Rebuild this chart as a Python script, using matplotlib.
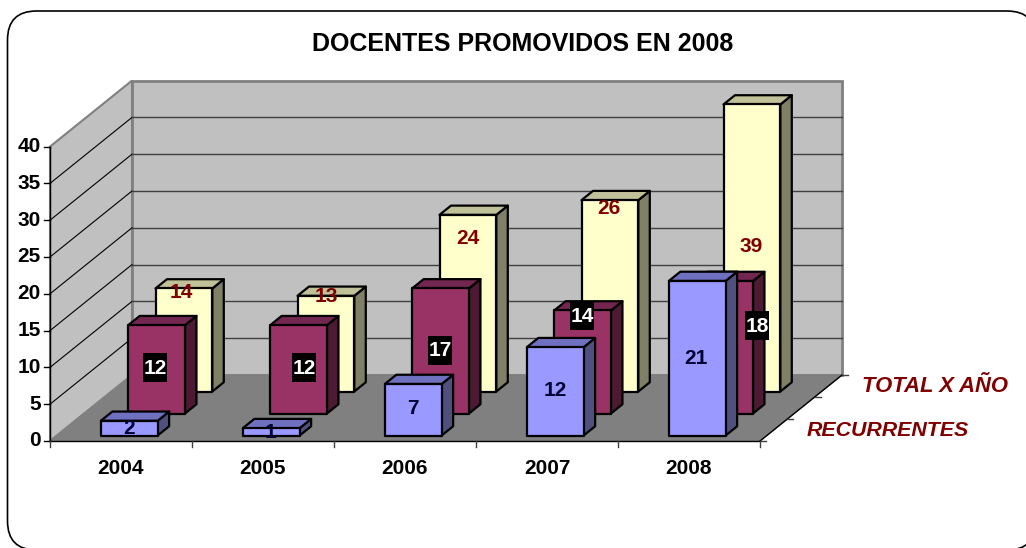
import matplotlib
matplotlib.use('Agg')
import matplotlib.pyplot as plt
from matplotlib.patches import Polygon, FancyBboxPatch, Rectangle

plt.rcParams['font.family'] = ['Liberation Sans', 'DejaVu Sans']

# data
years = ['2004', '2005', '2006', '2007', '2008']
recien = [2, 1, 7, 12, 21]
recurrentes = [12, 12, 17, 14, 18]
total = [14, 13, 24, 26, 39]
y_ticks = [0, 5, 10, 15, 20, 25, 30, 35, 40]
depth_labels = ['RECURRENTES', 'TOTAL X AÑO']

# pixel layout of the 3d box
X0, Y0 = 50, 441
CAT_W = 142
UNIT = 7.36
DX, DY = 27.33, -22.0
ROWS = 3
VMAX = 40

# where the value labels were put by hand in the original
recien_pos = [(129, 429), (271, 432), (413, 409), (555, 391), (696, 358)]
recurr_pos = [(155, 368), (304, 368), (440, 351), (582, 316), (757, 326)]
total_pos = [(181, 293), (326, 296), (468, 238), (609, 209), (751, 246)]
FS = 15


def proj(c, d, v):
    return (X0 + CAT_W * c + DX * d, Y0 - UNIT * v + DY * d)


fig = plt.figure(figsize=(10.26, 5.48), dpi=100)
ax = fig.add_axes([0, 0, 1, 1])
ax.set_xlim(0, 1026)
ax.set_ylim(548, 0)
ax.axis('off')

ax.add_patch(FancyBboxPatch((7.5, 11), 1028.5, 539, boxstyle='round,pad=0,rounding_size=29',
                            fc='white', ec='black', lw=1.2, zorder=0))

ncat = len(years)
# walls and floor
ax.add_patch(Polygon([proj(0, 0, 0), proj(0, 0, VMAX), proj(0, ROWS, VMAX), proj(0, ROWS, 0)],
                     fc='#C0C0C0', ec='#808080', lw=1.5, zorder=1))
ax.add_patch(Polygon([proj(0, ROWS, 0), proj(0, ROWS, VMAX), proj(ncat, ROWS, VMAX), proj(ncat, ROWS, 0)],
                     fc='#C0C0C0', ec='#808080', lw=2, zorder=1))
ax.add_patch(Polygon([proj(0, 0, 0), proj(ncat, 0, 0), proj(ncat, ROWS, 0), proj(0, ROWS, 0)],
                     fc='#808080', ec='#808080', lw=1, zorder=2))
for t in y_ticks[1:-1]:
    a, b, c = proj(0, 0, t), proj(0, ROWS, t), proj(ncat, ROWS, t)
    ax.plot([a[0], b[0]], [a[1], b[1]], color='black', lw=0.8, zorder=2)
    ax.plot([b[0], c[0]], [b[1], c[1]], color='#404040', lw=1.0, zorder=2)

# axes lines and ticks
a, b = proj(0, 0, 0), proj(0, 0, VMAX)
ax.plot([a[0], b[0]], [a[1], b[1]], color='black', lw=1, zorder=3)
a, b = proj(0, 0, 0), proj(ncat, 0, 0)
ax.plot([a[0], b[0]], [a[1], b[1]], color='black', lw=1, zorder=3)
a, b = proj(ncat, 0, 0), proj(ncat, ROWS, 0)
ax.plot([a[0], b[0]], [a[1], b[1]], color='black', lw=1, zorder=3)
for t in y_ticks:
    px, py = proj(0, 0, t)
    ax.plot([px - 6, px], [py, py], color='black', lw=1, zorder=3)
    ax.text(px - 9, py, str(t), ha='right', va='center', fontsize=FS, fontweight='bold')
for i in range(ncat + 1):
    px, py = proj(i, 0, 0)
    ax.plot([px, px], [py, py + 6], color='#404040', lw=1, zorder=3)
for i in range(ROWS + 1):
    px, py = proj(ncat, i, 0)
    ax.plot([px, px + 6], [py, py], color='#404040', lw=1, zorder=3)
for i, y in enumerate(years):
    px, py = proj(i + 0.5, 0, 0)
    ax.text(px, py + 27, y, ha='center', va='center', fontsize=FS, fontweight='bold')


def draw_row(vals, row, front, side, top):
    d0 = row + 0.25
    d1 = d0 + 0.42
    z = 10 + (ROWS - row) * 10
    for i, v in enumerate(vals):
        c0 = i + 0.31
        c1 = c0 + 0.40
        lw = 1.6
        ax.add_patch(Polygon([proj(c0, d0, 0), proj(c1, d0, 0), proj(c1, d0, v), proj(c0, d0, v)],
                             fc=front, ec='black', lw=lw, joinstyle='round', zorder=z + 1))
        ax.add_patch(Polygon([proj(c1, d0, 0), proj(c1, d1, 0), proj(c1, d1, v), proj(c1, d0, v)],
                             fc=side, ec='black', lw=lw, joinstyle='round', zorder=z))
        ax.add_patch(Polygon([proj(c0, d0, v), proj(c1, d0, v), proj(c1, d1, v), proj(c0, d1, v)],
                             fc=top, ec='black', lw=lw, joinstyle='round', zorder=z))


draw_row(total, 2, '#FFFFCC', '#808066', '#C0C099')
draw_row(recurrentes, 1, '#993366', '#4D1A33', '#732650')
draw_row(recien, 0, '#9999FF', '#50507F', '#7070C0')

# value labels
for v, (x, y) in zip(recien, recien_pos):
    ax.text(x, y, str(v), ha='center', va='center', fontsize=FS, fontweight='bold',
            color='#000033', zorder=60)
for v, (x, y) in zip(recurrentes, recurr_pos):
    ax.add_patch(Rectangle((x - 12, y - 15), 24, 29, fc='black', ec='none', zorder=59))
    ax.text(x, y, str(v), ha='center', va='center', fontsize=FS, fontweight='bold',
            color='white', zorder=60)
for v, (x, y) in zip(total, total_pos):
    ax.text(x, y, str(v), ha='center', va='center', fontsize=FS, fontweight='bold',
            color='#800000', zorder=60)

ax.text(523, 44, 'DOCENTES PROMOVIDOS EN 2008', ha='center', va='center',
        fontsize=18, fontweight='bold')
ax.text(807, 431, depth_labels[0], ha='left', va='center', fontsize=15.4,
        fontweight='bold', fontstyle='italic', color='#800000')
ax.text(862, 386, depth_labels[1], ha='left', va='center', fontsize=15.8,
        fontweight='bold', fontstyle='italic', color='#800000')

plt.savefig('out.png', dpi=100)
